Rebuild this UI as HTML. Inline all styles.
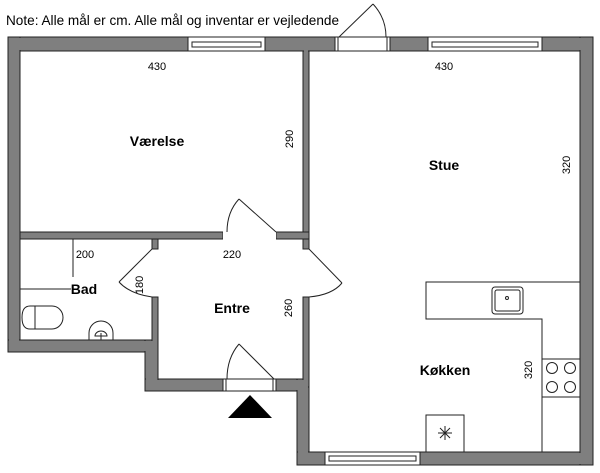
<!DOCTYPE html>
<html><head><meta charset="utf-8"><style>
html,body{margin:0;padding:0;background:#fff;width:600px;height:473px;overflow:hidden}
svg{display:block}
text{font-family:"Liberation Sans",sans-serif;fill:#000}
</style></head><body>
<svg width="600" height="473" viewBox="0 0 600 473" xmlns="http://www.w3.org/2000/svg">
<text x="6" y="25" font-size="14" textLength="333" lengthAdjust="spacingAndGlyphs">Note: Alle mål er cm. Alle mål og inventar er vejledende</text>
<g fill="#7f7f7f" stroke="#222" stroke-width="1">
<rect x="8" y="37" width="585" height="14"/>
<rect x="8" y="37" width="12" height="315"/>
<rect x="8" y="340" width="150" height="12"/>
<rect x="145" y="340" width="13" height="51"/>
<rect x="145" y="379" width="78" height="12"/>
<rect x="276" y="379" width="33" height="12"/>
<rect x="297" y="379" width="12" height="86"/>
<rect x="297" y="452" width="296" height="13"/>
<rect x="580" y="37" width="13" height="428"/>
<rect x="303" y="51" width="6" height="198"/>
<rect x="303" y="297" width="6" height="90"/>
<rect x="20" y="232" width="203" height="7"/>
<rect x="276" y="232" width="33" height="7"/>
<rect x="152" y="239" width="6" height="10"/>
<rect x="152" y="297" width="6" height="88"/>
</g>
<g fill="#7f7f7f">
<rect x="9" y="38" width="10" height="313"/>
<rect x="9" y="341" width="148" height="10"/>
<rect x="146" y="341" width="11" height="49"/>
<rect x="298" y="380" width="10" height="84"/>
<rect x="298" y="453" width="294" height="11"/>
<rect x="581" y="38" width="11" height="426"/>
<rect x="9" y="38" width="583" height="12"/>
<rect x="146" y="380" width="76" height="10"/>
<rect x="277" y="380" width="31" height="10"/>
<rect x="304" y="50" width="4" height="5"/>
<rect x="153" y="338" width="4" height="5"/>
<rect x="304" y="383" width="4" height="6"/>
</g>
<g fill="#fff" stroke="#222" stroke-width="1">
<rect x="188" y="37" width="77" height="14"/>
<rect x="192" y="42" width="69" height="5"/>
<rect x="428" y="37" width="114" height="14"/>
<rect x="432" y="42" width="106" height="5"/>
<rect x="325" y="452" width="95" height="13"/>
<rect x="329" y="456" width="87" height="5"/>
<rect x="335" y="37" width="55" height="14"/>
<rect x="223" y="379" width="53" height="12"/>
</g>
<g fill="#fff" stroke="none">
<rect x="223" y="231" width="53" height="9"/>
<rect x="151" y="250" width="8" height="46"/>
<rect x="302" y="250" width="8" height="46"/>
</g>
<g fill="none" stroke="#222" stroke-width="1">
<line x1="338" y1="37" x2="338" y2="51"/><line x1="387" y1="37" x2="387" y2="51"/>
<line x1="226" y1="379" x2="226" y2="391"/><line x1="273" y1="379" x2="273" y2="391"/>
<line x1="339" y1="37" x2="373" y2="4"/><path d="M373 4 Q386 18 386 37"/>
<line x1="276" y1="232" x2="239" y2="199"/><path d="M239 199 Q227 212 227 232"/>
<line x1="274" y1="379" x2="239" y2="344"/><path d="M239 344 Q227 358 227 379"/>
<line x1="152" y1="249" x2="119" y2="282"/><path d="M119 282 Q130 294 152 297"/>
<line x1="309" y1="249" x2="342" y2="283"/><path d="M342 283 Q332 295 309 297"/>
<path d="M580 282 H426 V319 H542 V452"/>
<rect x="542" y="359" width="38" height="38"/>
<circle cx="552" cy="368" r="5.5"/><circle cx="570" cy="368" r="5.5"/>
<circle cx="552" cy="387" r="5.5"/><circle cx="570" cy="387" r="5.5"/>
<rect x="426" y="415" width="38" height="37"/>
<path d="M445 426 V440 M438 433 H452 M440 428 L450 438 M450 428 L440 438"/>
<rect x="492" y="287" width="31" height="27" rx="3"/>
<rect x="495" y="290" width="25" height="21" rx="2"/>
<circle cx="507" cy="298" r="1.5"/>
<line x1="73" y1="239" x2="73" y2="277"/>
<line x1="20" y1="289" x2="71" y2="289"/>
<path d="M30 306 H52 A11 11.5 0 0 1 52 329 H30 Q22 329 22 317.5 Q22 306 30 306 Z"/>
<line x1="35" y1="306" x2="35" y2="329"/>
<path d="M89 340 V333 A12 12 0 0 1 113 333 V340"/>
<path d="M95 336 A6 5 0 0 1 107 336 Z"/>
<line x1="101" y1="333" x2="101" y2="340"/>
</g>
<polygon points="228,418 272,418 250,395" fill="#000"/>
<g font-size="11" text-anchor="middle">
<text x="157" y="70">430</text>
<text x="444" y="70">430</text>
<text x="232" y="258">220</text>
<text x="85" y="258">200</text>
<text transform="translate(293,139) rotate(-90)">290</text>
<text transform="translate(570,165) rotate(-90)">320</text>
<text transform="translate(143,285) rotate(-90)">180</text>
<text transform="translate(292,308) rotate(-90)">260</text>
<text transform="translate(532,370) rotate(-90)">320</text>
</g>
<g font-size="14" font-weight="bold" text-anchor="middle">
<text x="157" y="146">Værelse</text>
<text x="444" y="170">Stue</text>
<text x="232" y="313">Entre</text>
<text x="445" y="375">Køkken</text>
<text x="84" y="294">Bad</text>
</g>
</svg>
</body></html>
